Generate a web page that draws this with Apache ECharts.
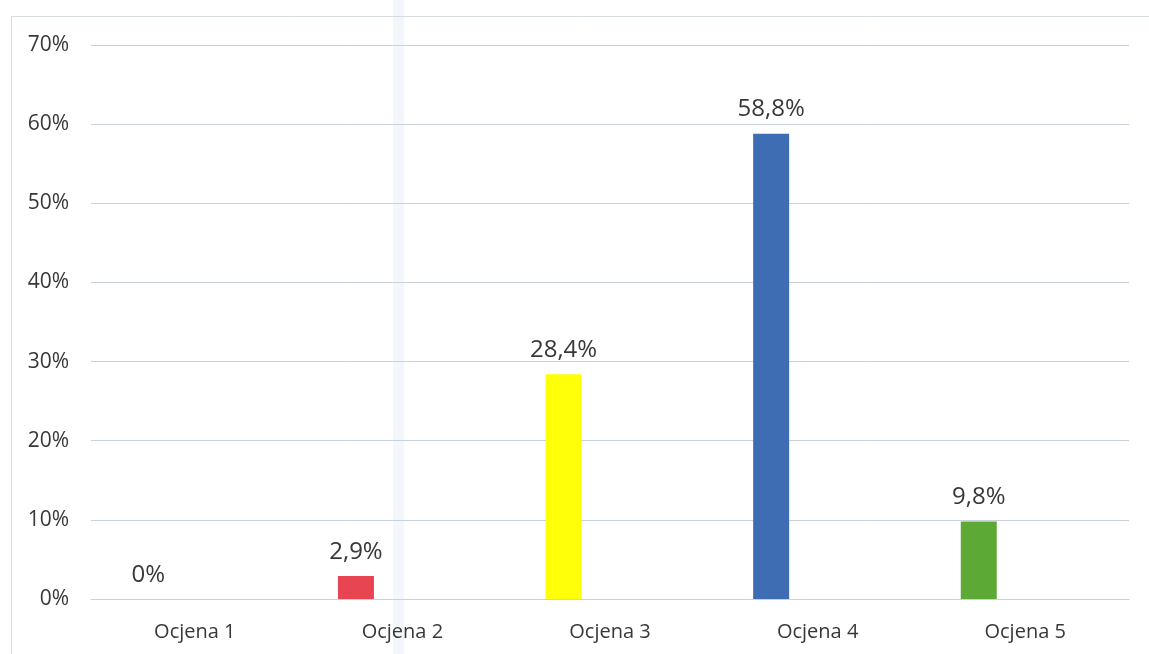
<!DOCTYPE html>
<html>
<head>
<meta charset="utf-8">
<script src="https://cdn.jsdelivr.net/npm/echarts@6/dist/echarts.min.js"></script>
<style>
html,body{margin:0;padding:0;background:#fff;}
#chart{width:1149px;height:654px;}
</style>
</head>
<body>
<div id="chart"></div>
<script>
var categories = ['Ocjena 1', 'Ocjena 2', 'Ocjena 3', 'Ocjena 4', 'Ocjena 5'];
var values = [0, 2.9, 28.4, 58.8, 9.8];
var barColors = ['#e84552', '#e84552', '#ffff0a', '#3e6db3', '#5caa35'];
var yTicks = [0, 10, 20, 30, 40, 50, 60, 70];

function fmt(v) {
  if (v === 0) return '0%';
  return v.toFixed(1).replace('.', ',') + '%';
}

var chart = echarts.init(document.getElementById('chart'), null, {renderer: 'canvas'});
var font = 'Open Sans';
var option = {
  animation: false,
  backgroundColor: '#ffffff',
  grid: {left: 91, right: 20, top: 45, bottom: 55, containLabel: false},
  xAxis: {
    type: 'category',
    data: categories,
    axisLine: {show: true, lineStyle: {color: '#c9d2da', width: 1}},
    axisTick: {show: false},
    axisLabel: {color: '#383838', fontFamily: font, fontSize: 20, margin: 23}
  },
  yAxis: {
    type: 'value',
    min: yTicks[0],
    max: yTicks[yTicks.length - 1],
    interval: 10,
    axisLine: {show: false},
    axisTick: {show: false},
    splitLine: {lineStyle: {color: '#c9d2da', width: 1}},
    axisLabel: {color: '#383838', fontFamily: font, fontSize: 21, margin: 22,
      formatter: function (v) { return v + '%'; }}
  },
  series: [
    {
      type: 'bar',
      barWidth: 36,
      barGap: '158%',
      data: values.map(function (v, i) {
        return {value: v, itemStyle: {color: barColors[i]}};
      }),
      label: {
        show: true,
        position: 'top',
        distance: 12,
        color: '#383838',
        fontFamily: font,
        fontSize: 24,
        formatter: function (p) { return fmt(p.value); }
      }
    },
    {
      type: 'bar',
      barWidth: 36,
      data: values.map(function () { return null; })
    }
  ],
  graphic: [
    {type: 'rect', shape: {x: 393, y: 0, width: 11, height: 654}, style: {fill: 'rgba(215,228,242,0.3)'}, silent: true, z: -1},
    {type: 'line', shape: {x1: 11.5, y1: 16.5, x2: 11.5, y2: 654}, style: {stroke: '#d6dce2', lineWidth: 1}, silent: true},
    {type: 'line', shape: {x1: 11.5, y1: 16.5, x2: 1149, y2: 16.5}, style: {stroke: '#d6dce2', lineWidth: 1}, silent: true}
  ]
};
chart.setOption(option);
</script>
</body>
</html>
